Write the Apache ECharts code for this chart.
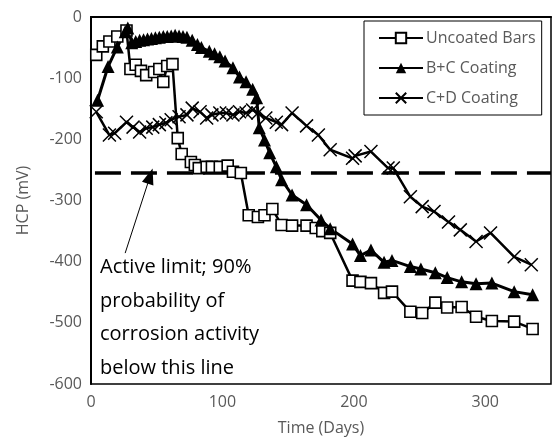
<!DOCTYPE html>
<html>
<head>
<meta charset="utf-8">
<script src="https://cdn.jsdelivr.net/npm/echarts@6/dist/echarts.min.js"></script>
<style>
  html, body { margin: 0; padding: 0; background: #fff; }
  #main { width: 552px; height: 443px; }
</style>
</head>
<body>
<div id="main"></div>
<script>
// [day, HCP mV]
var uncoated = [
  [4,-62],[9,-48],[14,-40],[20,-32],[27,-22],[30,-85],[34,-78],[38,-88],[42,-95],[48,-90],
  [52,-85],[55,-106],[58,-80],[62,-77],[66,-198],[69,-224],[76,-237],[79,-242],[82,-247],[88,-245],
  [92,-245],[98,-245],[104,-243],[108,-253],[114,-255],[120,-324],[127,-327],[132,-324],[138,-314],[145,-340],
  [153,-341],[164,-341],[171,-345],[176,-350],[182,-353],[199,-431],[205,-433],[213,-435],[223,-451],[229,-449],
  [243,-482],[252,-484],[262,-467],[271,-475],[282,-474],[293,-490],[305,-497],[322,-498],[336,-510]
];
var bcCoating = [
  [5,-136],[13,-81],[20,-49],[26,-24],[28,-18],[31,-42],[34,-40],[37,-38],[40,-37],[43,-36],
  [46,-35],[49,-34],[52,-33],[55,-32],[58,-32],[61,-31],[64,-30],[67,-31],[70,-32],[73,-33],
  [77,-38],[81,-45],[84,-50],[90,-56],[94,-60],[98,-65],[102,-72],[108,-83],[113,-98],[118,-106],
  [123,-118],[126,-132],[128,-181],[132,-201],[136,-222],[141,-245],[145,-266],[153,-291],[164,-307],[175,-332],
  [182,-346],[199,-371],[205,-390],[213,-381],[223,-401],[229,-398],[243,-408],[251,-412],[262,-418],[271,-426],
  [282,-433],[293,-436],[305,-435],[322,-449],[336,-454]
];
var cdCoating = [
  [4,-155],[14,-193],[18,-190],[27,-172],[32,-180],[37,-188],[42,-182],[47,-180],[52,-176],[57,-173],
  [61,-168],[67,-163],[73,-160],[77,-149],[83,-155],[88,-165],[92,-160],[98,-157],[103,-157],[108,-160],
  [113,-155],[118,-157],[123,-152],[127,-157],[133,-165],[141,-172],[145,-176],[153,-157],[164,-178],[173,-193],
  [182,-217],[199,-231],[201,-227],[213,-220],[226,-247],[230,-247],[243,-294],[252,-310],[261,-318],[272,-335],
  [281,-348],[293,-367],[304,-353],[322,-392],[335,-405]
];
var activeLimit = [[3,-255],[350,-255]];
var arrowFrom = [26,-386];
var arrowTo = [45,-260];
var seriesNames = ['Uncoated Bars', 'B+C Coating', 'C+D Coating'];
var noteText = 'Active limit; 90%\nprobability of\ncorrosion activity\nbelow this line';

var font = '"Open Sans", sans-serif';
var gray = '#595959';

var myChart = echarts.init(document.getElementById('main'));
myChart.setOption({
  animation: false,
  grid: {
    left: 91, right: 1, top: 17, bottom: 59,
    show: true, borderColor: '#000', borderWidth: 1.5
  },
  legend: {
    data: seriesNames,
    orient: 'vertical',
    left: 364, top: 21,
    padding: [7, 6, 7, 14],
    itemGap: 10,
    itemWidth: 44,
    itemHeight: 13,
    backgroundColor: '#fff',
    borderColor: '#000',
    borderWidth: 1,
    borderRadius: 0,
    textStyle: { fontFamily: font, fontSize: 16, color: gray, lineHeight: 20, padding: [0, 0, 0, -2] }
  },
  xAxis: {
    type: 'value',
    min: 0, max: 350, interval: 100,
    name: 'Time (Days)',
    nameLocation: 'middle',
    nameGap: 36,
    nameTextStyle: { fontFamily: font, fontSize: 16, color: gray },
    axisLine: { lineStyle: { color: '#000', width: 2 } },
    axisTick: { show: false },
    splitLine: { show: false },
    axisLabel: { fontFamily: font, fontSize: 16, color: gray, margin: 10, showMaxLabel: false }
  },
  yAxis: {
    type: 'value',
    min: -600, max: 0, interval: 100,
    name: 'HCP (mV)',
    nameLocation: 'middle',
    nameGap: 60,
    nameTextStyle: { fontFamily: font, fontSize: 16, color: gray },
    axisLine: { show: true, lineStyle: { color: '#000', width: 2 } },
    axisTick: { show: false },
    splitLine: { show: false },
    axisLabel: { fontFamily: font, fontSize: 16, color: gray, margin: 9 }
  },
  series: [
    {
      name: 'limit',
      type: 'line',
      data: activeLimit,
      symbol: 'none',
      silent: true,
      lineStyle: { color: '#000', width: 3.5, type: [26, 10] },
      markLine: {
        silent: true,
        symbol: ['none', 'triangle'],
        symbolSize: [12, 16],
        label: { show: false },
        lineStyle: { color: '#000', width: 1, type: 'solid' },
        data: [[{ coord: arrowFrom }, { coord: arrowTo }]]
      }
    },
    {
      name: seriesNames[0],
      type: 'line',
      data: uncoated,
      symbol: 'rect',
      symbolSize: 11,
      lineStyle: { color: '#000', width: 2.5 },
      itemStyle: { color: '#fff', borderColor: '#000', borderWidth: 1.6 }
    },
    {
      name: seriesNames[1],
      type: 'line',
      data: bcCoating,
      symbol: 'triangle',
      symbolSize: 13,
      lineStyle: { color: '#000', width: 3 },
      itemStyle: { color: '#000', borderColor: '#000', borderWidth: 0 }
    },
    {
      name: seriesNames[2],
      type: 'line',
      data: cdCoating,
      symbol: 'path://M0,0 L10,10 M10,0 L0,10',
      symbolSize: 13,
      lineStyle: { color: '#000', width: 2.5 },
      itemStyle: { color: '#000', borderColor: '#000', borderWidth: 1.5 }
    }
  ],
  graphic: [
    {
      type: 'text',
      left: 100,
      top: 251,
      style: {
        text: noteText,
        font: '20px "Open Sans", sans-serif',
        fill: '#000',
        lineHeight: 33.5
      }
    }
  ]
});
</script>
</body>
</html>
